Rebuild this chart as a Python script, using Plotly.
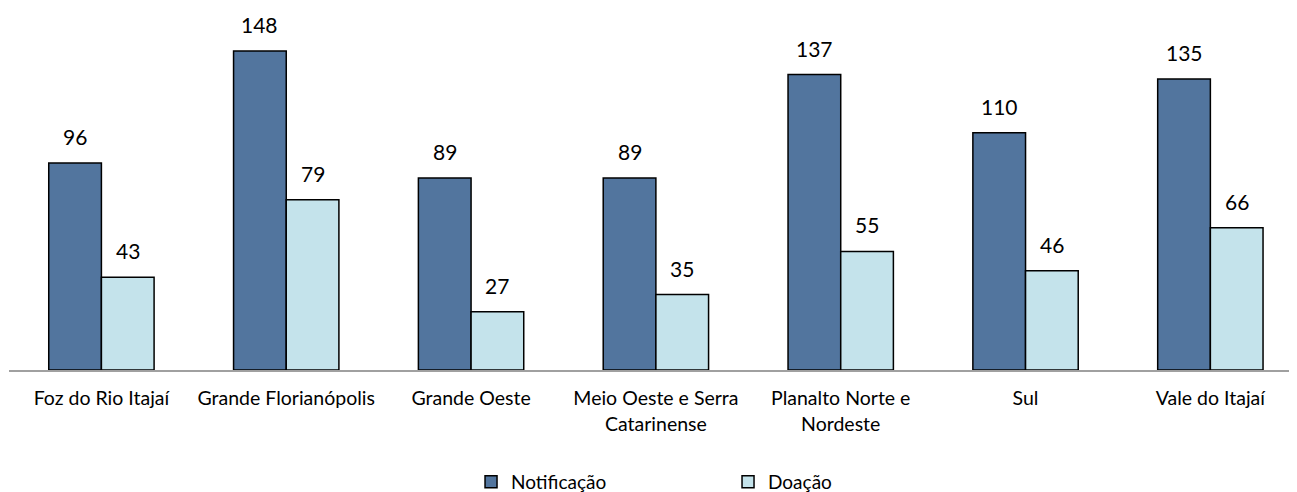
import plotly.graph_objects as go

categories = ["Foz do Rio Itajaí", "Grande Florianópolis", "Grande Oeste",
              "Meio Oeste e Serra<br>Catarinense", "Planalto Norte e<br>Nordeste",
              "Sul", "Vale do Itajaí"]
notificacao = [96, 148, 89, 89, 137, 110, 135]
doacao = [43, 79, 27, 35, 55, 46, 66]

FONT = "Lato, 'Open Sans', sans-serif"
BARGAP = 0.43
RANGE = [-0.5, 6.512]
PLOT_W = 1296
CAT_PX = PLOT_W / (RANGE[1] - RANGE[0])
HALF_BAR = (1 - BARGAP) * CAT_PX / 4

fig = go.Figure()
fig.add_trace(go.Bar(x=categories, y=notificacao, name="Notificação",
                     marker=dict(color="#52759E", line=dict(color="black", width=1.5))))
fig.add_trace(go.Bar(x=categories, y=doacao, name="Doação",
                     marker=dict(color="#C4E3EB", line=dict(color="black", width=1.5))))

annotations = []
for series, shift in ((notificacao, -HALF_BAR), (doacao, HALF_BAR)):
    for cat, val in zip(categories, series):
        annotations.append(dict(x=cat, y=val, text=str(val), showarrow=False,
                                xshift=shift, yshift=12, yanchor="bottom",
                                font=dict(size=21, color="black", family=FONT)))

fig.update_layout(
    width=1297, height=484,
    margin=dict(l=1, r=0, t=17, b=122, autoexpand=False),
    paper_bgcolor="white", plot_bgcolor="white",
    barmode="group", bargap=BARGAP, bargroupgap=0,
    font=dict(family=FONT, size=19, color="black"),
    showlegend=True,
    annotations=annotations,
    legend=dict(orientation="h", xref="container", yref="container",
                x=0.357, xanchor="left", y=0.021, yanchor="middle",
                entrywidth=212, entrywidthmode="pixels", itemwidth=30,
                font=dict(size=19, family=FONT), traceorder="normal"),
    xaxis=dict(range=RANGE, showline=True, linecolor="#A0A0A0", linewidth=1.5,
               ticks="", automargin=False, ticklabelstandoff=10,
               tickfont=dict(size=19.5, family=FONT)),
    yaxis=dict(range=[0, 160], visible=False, showgrid=False, automargin=False),
)

fig.write_html("out.html")
